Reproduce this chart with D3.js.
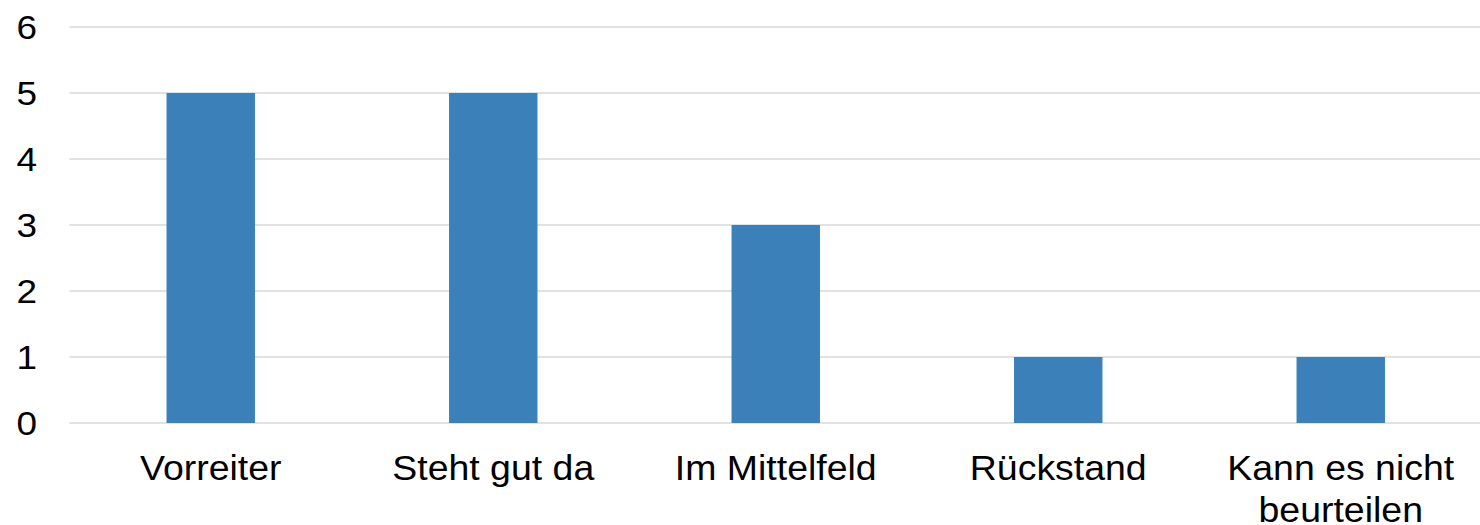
<!DOCTYPE html>
<html>
<head>
<meta charset="utf-8">
<script src="https://cdn.jsdelivr.net/npm/d3@7"></script>
<style>
  body { margin: 0; background: #fff; }
  text { font-family: "Liberation Sans", Arial, sans-serif; fill: #000; }
</style>
</head>
<body>
<div id="chart"></div>
<script>
const categories = ["Vorreiter", "Steht gut da", "Im Mittelfeld", "Rückstand", "Kann es nicht beurteilen"];
const values = [5, 5, 3, 1, 1];
const yTicks = [0, 1, 2, 3, 4, 5, 6];

const width = 1480, height = 525;
const margin = {top: 27, right: -2, bottom: 102, left: 69.5};
const graphWidth = width - margin.left - margin.right;
const graphHeight = height - margin.top - margin.bottom;
// text in the reference looks a bit wider than Arial
const yStretch = 1.12;
const xStretch = 1.07;

const svg = d3.select("#chart").append("svg")
  .attr("width", width).attr("height", height);

const graph = svg.append("g").attr("transform", `translate(${margin.left},${margin.top})`);

const xScale = d3.scaleBand().domain(categories).range([0, graphWidth]).paddingInner(0.687).paddingOuter(0.3435);
const yScale = d3.scaleLinear().domain([0, 6]).range([graphHeight, 0]);

// gridlines
graph.append("g")
  .selectAll("line").data(yTicks).enter()
  .append("line")
  .attr("x1", 0).attr("x2", graphWidth)
  .attr("y1", d => yScale(d)).attr("y2", d => yScale(d))
  .attr("stroke", "#d9d9d9").attr("stroke-width", 1.3);

// y labels
svg.append("g")
  .selectAll("text").data(yTicks).enter()
  .append("text")
  .attr("text-anchor", "end")
  .attr("dy", "0.35em")
  .attr("transform", d => `translate(37,${margin.top + yScale(d)}) scale(${yStretch},1)`)
  .style("font-size", "33px")
  .text(d => d);

// bars
graph.selectAll("rect").data(values).enter()
  .append("rect")
  .attr("x", (d, i) => xScale(categories[i]))
  .attr("width", xScale.bandwidth())
  .attr("y", d => yScale(d))
  .attr("height", d => graphHeight - yScale(d))
  .attr("fill", "#3b80b9");

// x labels, wrapped to the band
const step = xScale.step();
const xLabels = graph.append("g").selectAll("text").data(categories).enter()
  .append("text")
  .attr("text-anchor", "middle")
  .attr("transform", d => `translate(${xScale(d) + xScale.bandwidth() / 2},${graphHeight + 57}) scale(${xStretch},1)`)
  .style("font-size", "35px");

xLabels.each(function(d) {
  const t = d3.select(this);
  const words = d.split(" ");
  let line = [], lineNo = 0;
  let tspan = t.append("tspan").attr("x", 0).attr("y", 0);
  words.forEach(w => {
    line.push(w);
    tspan.text(line.join(" "));
    if (tspan.node().getComputedTextLength() * xStretch > step - 30 && line.length > 1) {
      line.pop();
      tspan.text(line.join(" "));
      line = [w];
      lineNo++;
      tspan = t.append("tspan").attr("x", 0).attr("y", lineNo * 42).text(w);
    }
  });
});
</script>
</body>
</html>
